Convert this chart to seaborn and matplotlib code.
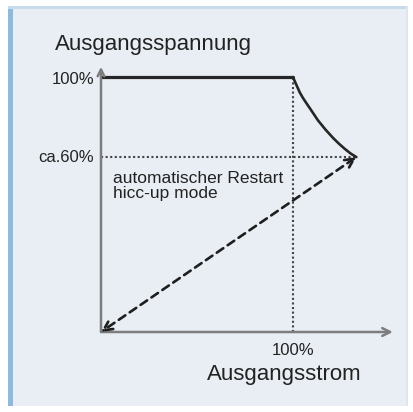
import numpy as np
import pandas as pd
import matplotlib
matplotlib.use("Agg")
import matplotlib.pyplot as plt
from matplotlib.patches import Rectangle
import seaborn as sns

# chart values (current / voltage as fraction of nominal, drawn positions)
i_nominal = 1.0
u_nominal = 1.0
u_restart = 0.686          # "ca.60%" level as drawn
i_axis_end = 1.52
u_axis_end = 1.04

flat_i = [0.0, 1.0]
flat_u = [1.0, 1.0]
fold_i = [1.0, 1.01, 1.02, 1.035, 1.05, 1.07, 1.09, 1.13, 1.17, 1.21, 1.24, 1.27, 1.30, 1.33]
fold_u = [1.0, 0.982, 0.965, 0.94, 0.92, 0.897, 0.875, 0.83, 0.793, 0.76, 0.738, 0.718, 0.70, 0.686]

y_title = "Ausgangsspannung"
x_title = "Ausgangsstrom"
u_labels = ["100%", "ca.60%"]
i_label = "100%"
note = "automatischer Restart\nhicc-up mode"

sns.set_theme(style="white")
plt.rcParams['font.family'] = ['Liberation Sans', 'DejaVu Sans']

fig = plt.figure(figsize=(4.14, 4.12), dpi=100)
fig.patch.set_facecolor("white")

# panel background with blue frame
W, H = 414, 412
for (x0, y0, w, h, c) in [(10, 6, 398, 398, "#e9eef5"),
                          (8, 6, 5, 400, "#93b9d8"),
                          (8, 403, 400, 3, "#c6dbec"),
                          (406, 6, 2, 400, "#dde5ee")]:
    fig.add_artist(Rectangle((x0 / W, y0 / H), w / W, h / H, transform=fig.transFigure,
                             facecolor=c, edgecolor="none", zorder=-5))

ax = fig.add_axes([0, 0, 1, 1])
ax.set_zorder(1)
ax.set_facecolor("none")
ax.set_xlim(-101 / 192, 313 / 192)
ax.set_ylim(-80 / 255, 332 / 255)
ax.axis("off")

axis_col = "#7d7d7d"
# axes with open arrow heads
ax.annotate("", xy=(i_axis_end, 0), xytext=(0, 0),
            arrowprops=dict(arrowstyle="->", color=axis_col, lw=1.8, mutation_scale=14,
                            shrinkA=0, shrinkB=0))
ax.annotate("", xy=(0, u_axis_end), xytext=(0, 0),
            arrowprops=dict(arrowstyle="->", color=axis_col, lw=1.8, mutation_scale=12,
                            shrinkA=0, shrinkB=0))

# dotted guides
ax.plot([i_nominal, i_nominal], [0, u_nominal], linestyle=(0, (1, 1.2)), color="#444444", lw=1.5)
ax.plot([0, fold_i[-1]], [u_restart, u_restart], linestyle=(0, (1, 1.2)), color="#444444", lw=1.5)

# characteristic
df_flat = pd.DataFrame({"i": flat_i, "u": flat_u})
df_fold = pd.DataFrame({"i": fold_i, "u": fold_u})
sns.lineplot(data=df_flat, x="i", y="u", ax=ax, color="#262626", lw=2.3, sort=False)
sns.lineplot(data=df_fold, x="i", y="u", ax=ax, color="#262626", lw=1.9, sort=False,
             solid_joinstyle="round")

# hiccup restart dashed line with arrows at both ends
ax.annotate("", xy=(0, 0), xytext=(fold_i[-1], u_restart),
            arrowprops=dict(arrowstyle="<->", color="#1e1e1e", lw=1.9, linestyle=(0, (3, 2)),
                            mutation_scale=16, shrinkA=0, shrinkB=0))

txt = "#222222"
ax.text(-46 / 192, 1.129, y_title, fontsize=16, color=txt, ha="left", va="center")
ax.text(-0.036, u_nominal - 0.008, u_labels[0], fontsize=12, color=txt, ha="right", va="center")
ax.text(-0.036, u_restart, u_labels[1], fontsize=12, color=txt, ha="right", va="center")
ax.text(0.0625, 0.573, note, fontsize=12.5, color=txt, ha="left", va="center", linespacing=1.05)
ax.text(i_nominal, -0.071, i_label, fontsize=12, color=txt, ha="center", va="center")
ax.text(0.956, -0.165, x_title, fontsize=16, color=txt, ha="center", va="center")

fig.savefig("out.png", dpi=100)
